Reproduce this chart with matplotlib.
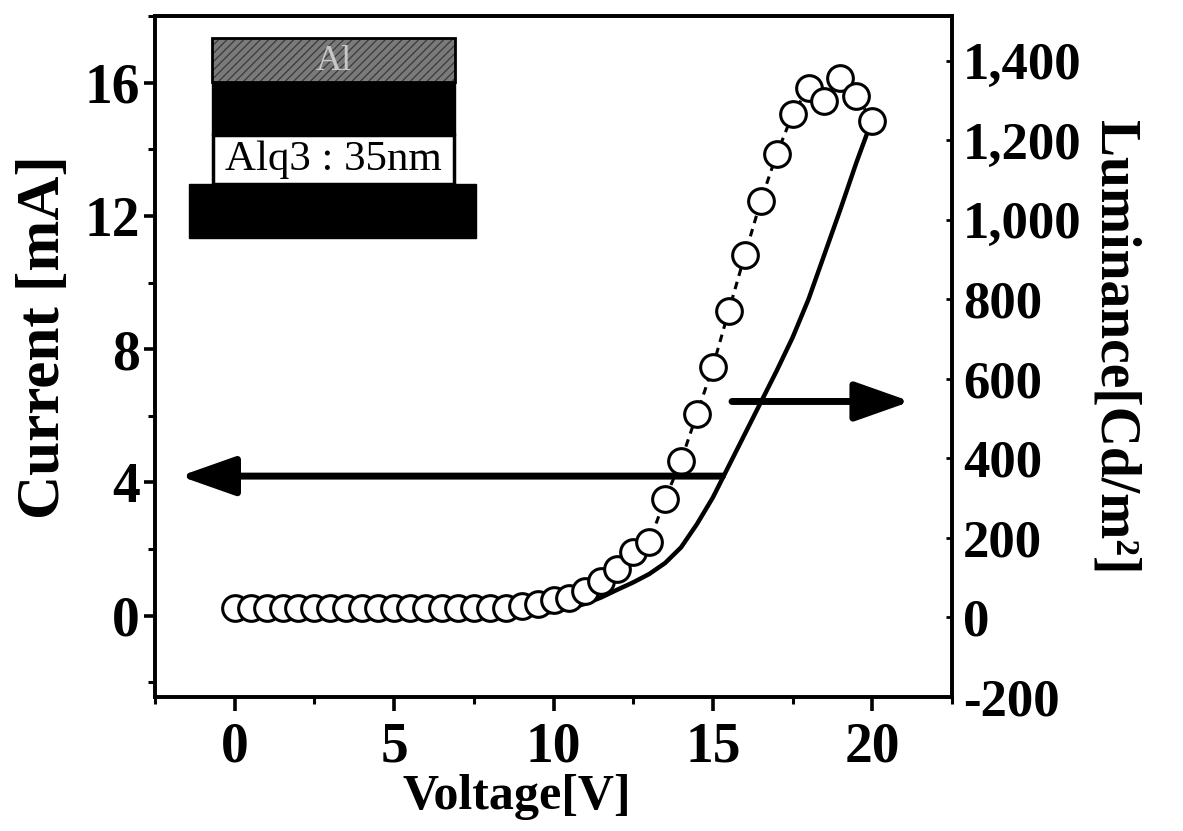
import matplotlib
matplotlib.use("Agg")
import matplotlib.pyplot as plt
from matplotlib.patches import Rectangle
from matplotlib.ticker import FixedLocator, FixedFormatter

plt.rcParams['font.family'] = ['Liberation Serif', 'DejaVu Serif']
plt.rcParams['font.weight'] = 'bold'
plt.rcParams['hatch.linewidth'] = 0.9

# ---------------- data ----------------
voltage = [0.0, 0.5, 1.0, 1.5, 2.0, 2.5, 3.0, 3.5, 4.0, 4.5, 5.0, 5.5, 6.0, 6.5,
           7.0, 7.5, 8.0, 8.5, 9.0, 9.5, 10.0, 10.5, 11.0, 11.5, 12.0, 12.5, 13.0,
           13.5, 14.0, 14.5, 15.0, 15.5, 16.0, 16.5, 17.0, 17.5, 18.0, 18.5, 19.0,
           19.5, 20.0]
current_ma = [0.0, 0.0, 0.0, 0.0, 0.0, 0.0, 0.0, 0.0, 0.0, 0.0, 0.0, 0.0, 0.0, 0.0,
              0.0, 0.01, 0.01, 0.02, 0.03, 0.06, 0.12, 0.22, 0.36, 0.55, 0.78, 1.0,
              1.25, 1.58, 2.05, 2.75, 3.55, 4.5, 5.45, 6.4, 7.35, 8.35, 9.5, 10.85,
              12.2, 13.6, 14.9]
luminance = [25, 25, 25, 25, 25, 25, 25, 25, 25, 25, 25, 25, 25, 25, 25, 25, 25, 25,
             28, 33, 43, 50, 66, 91, 121, 164, 189, 298, 394, 512, 631, 772, 911,
             1047, 1165, 1266, 1332, 1299, 1357, 1312, 1249]

x_ticks = [0, 5, 10, 15, 20]
x_minor = [-2.5, 2.5, 7.5, 12.5, 17.5, 22.5]
left_ticks = [0, 4, 8, 12, 16]
left_minor = [-2, 2, 6, 10, 14, 18]
right_ticks = [-200, 0, 200, 400, 600, 800, 1000, 1200, 1400]
right_labels = ['-200', '0', '200', '400', '600', '800', '1,000', '1,200', '1,400']

W, H = 1183, 831
fig = plt.figure(figsize=(W / 100, H / 100), dpi=100)
ax = fig.add_axes([155 / W, 1 - 697 / H, 797 / W, 681 / H])
ax2 = ax.twinx()

ax.set_xlim(-2.5, 22.5)
ax.set_ylim(-2.44, 18.0)
ax2.set_ylim(-200, 1513)

# current (solid line)
ax.plot(voltage, current_ma, color='black', lw=3.2, solid_capstyle='round')
# luminance (open circles with dashed connection)
ax2.plot(voltage, luminance, color='black', lw=2.2, ls=(0, (2.5, 2.0)),
         marker='o', ms=18.5, mfc='white', mec='black', mew=2.2, zorder=3)

# arrows
arrow_style = '-|>,head_length=1.7,head_width=0.6'
ax2.annotate('', xy=(-1.72, 4.19), xytext=(15.3, 4.19),
             xycoords=ax.transData, textcoords=ax.transData,
             arrowprops=dict(arrowstyle=arrow_style, lw=5, color='black',
                             shrinkA=0, shrinkB=0, mutation_scale=20), zorder=5)
ax2.annotate('', xy=(21.2, 6.43), xytext=(15.6, 6.43),
             xycoords=ax.transData, textcoords=ax.transData,
             arrowprops=dict(arrowstyle=arrow_style, lw=5, color='black',
                             shrinkA=0, shrinkB=0, mutation_scale=20), zorder=5)

# spines
for a in (ax, ax2):
    for s in a.spines.values():
        s.set_linewidth(2.6)

ax.xaxis.set_major_locator(FixedLocator(x_ticks))
ax.xaxis.set_minor_locator(FixedLocator(x_minor))
ax.yaxis.set_major_locator(FixedLocator(left_ticks))
ax.yaxis.set_minor_locator(FixedLocator(left_minor))
ax2.yaxis.set_major_locator(FixedLocator(right_ticks))
ax2.yaxis.set_major_formatter(FixedFormatter(right_labels))

ax.tick_params(axis='x', which='major', direction='out', length=10, width=2.6,
               labelsize=40, pad=8)
ax.tick_params(axis='x', which='minor', direction='out', length=5, width=2.2)
ax.tick_params(axis='y', which='major', direction='out', length=8, width=2.6,
               labelsize=40, pad=3)
ax.tick_params(axis='y', which='minor', direction='out', length=5, width=2.2)
ax2.tick_params(axis='y', which='major', direction='in', length=4, width=2.0,
                labelsize=38, pad=8)

for lab in ax.get_xticklabels() + ax.get_yticklabels() + ax2.get_yticklabels():
    lab.set_fontweight('bold')

# axis labels
fig.text(517 / W, 1 - 797 / H, 'Voltage[V]', ha='center', va='center',
         fontsize=36, fontweight='bold')
fig.text(44 / W, 1 - 337 / H, 'Current [mA]', ha='center', va='center',
         rotation=90, fontsize=44, fontweight='bold')
fig.text(1114 / W, 1 - 347 / H, 'Luminance[Cd/m²]', ha='center', va='center',
         rotation=-90, fontsize=40, fontweight='bold')

# inset device schematic (pixel coordinates)
ins = fig.add_axes([185 / W, 1 - 242 / H, 295 / W, 208 / H])
ins.set_xlim(185, 480)
ins.set_ylim(242, 34)
ins.axis('off')
ins.add_patch(Rectangle((212, 38), 243, 44, facecolor='#7a7a7a',
                        edgecolor='#3a3a3a', hatch='////', lw=0))
ins.add_patch(Rectangle((212, 38), 243, 44, facecolor='none',
                        edgecolor='black', lw=2))
ins.text(334, 61, 'Al', ha='center', va='center', fontsize=26,
         fontweight='normal', color='#c8c8c8')
ins.add_patch(Rectangle((212, 82), 243, 53, facecolor='black',
                        edgecolor='black', lw=1))
ins.add_patch(Rectangle((213, 135), 241, 49, facecolor='white',
                        edgecolor='black', lw=2.5))
ins.text(333, 160, 'Alq3 : 35nm', ha='center', va='center', fontsize=31,
         fontweight='normal', color='black')
ins.add_patch(Rectangle((189, 184), 287, 54, facecolor='black',
                        edgecolor='black', lw=1))

fig.savefig('out.png', dpi=100)
